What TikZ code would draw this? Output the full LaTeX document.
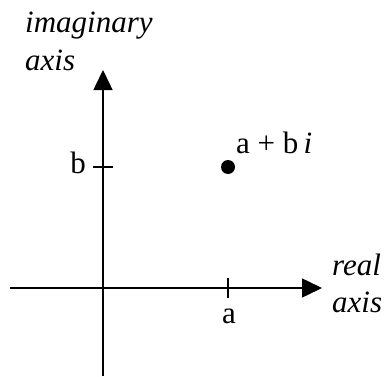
\documentclass[tikz,border=0pt]{standalone}
\usepackage{fontspec}
\setmainfont{Liberation Serif}
\usetikzlibrary{arrows.meta}

\begin{document}
\begin{tikzpicture}[x=1pt,y=1pt,
  every node/.style={font=\fontsize{31}{35}\selectfont,inner sep=0pt},
  axisline/.style={line width=1.5pt,-{Triangle[length=20pt,width=19pt]}}]
  \useasboundingbox (0,0) rectangle (385,376);
  % axes
  \coordinate (xstart) at (10,88);
  \coordinate (xend) at (322,88);
  \coordinate (ystart) at (103,0);
  \coordinate (yend) at (103,306);
  \draw[axisline] (xstart) -- (xend);
  \draw[axisline] (ystart) -- (yend);
  % ticks
  \coordinate (atick) at (228,88);
  \coordinate (btick) at (103,209);
  \draw[line width=1.5pt] ([yshift=-10pt]atick) -- ([yshift=10pt]atick);
  \draw[line width=1.5pt] ([xshift=-10pt]btick) -- ([xshift=10pt]btick);
  % point
  \fill (228,209) circle (7pt);
  \node[anchor=base west] (zlabel) at (236,223) {a + b\,\textit{i}};
  \node[anchor=base] (alabel) at (229,53) {a};
  \node[anchor=base east] (blabel) at (86,203) {b};
  \node[anchor=base west] (imlabel) at (25,344) {\textit{imaginary}};
  \node[anchor=base west] (imaxis) at (25,306) {\textit{axis}};
  \node[anchor=base west] (relabel) at (332,101) {\textit{real}};
  \node[anchor=base west] (reaxis) at (332,64) {\textit{axis}};
\end{tikzpicture}
\end{document}
